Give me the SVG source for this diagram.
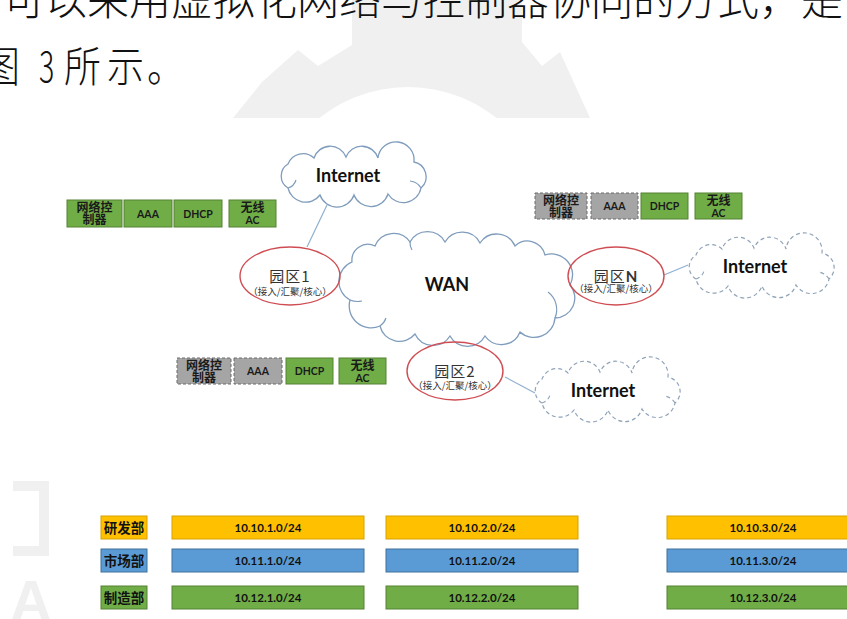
<svg xmlns="http://www.w3.org/2000/svg" width="847" height="619" viewBox="0 0 847 619">
<style>
  .para{font-family:"Noto Sans CJK SC",sans-serif;font-size:42px;font-weight:300;fill:#111}
  .wm{fill:#f0f0f0}
  .g{fill:#70ad47;stroke:#548235;stroke-width:1}
  .x{fill:#a5a5a5;stroke:#6b6b6b;stroke-width:1;stroke-dasharray:3 2}
  .bt{font-family:Lato,"Liberation Sans",sans-serif;font-weight:700;font-size:10.5px;fill:#1a1a1a;text-anchor:middle}
  .bc{font-family:"Noto Sans CJK SC",sans-serif;font-weight:700;font-size:12px;fill:#1a1a1a;text-anchor:middle}
  .cloud{fill:#fff;stroke:#7f9cbd;stroke-width:1.3}
  .cloud-d{fill:#fff;stroke:#8fa3b8;stroke-width:1.2;stroke-dasharray:4 3}
  .inner{fill:none;stroke:#7f9cbd;stroke-width:1.2}
  .inner-d{fill:none;stroke:#8fa3b8;stroke-width:1.1;stroke-dasharray:4 3}
  .lbl{font-family:Lato,"Liberation Sans",sans-serif;font-weight:700;font-size:18px;fill:#111;text-anchor:middle}
  .site{fill:none;stroke:#cf4d52;stroke-width:1.4}
  .st{font-family:"Noto Sans CJK SC",sans-serif;font-size:15px;fill:#333;text-anchor:middle}
  .stb{font-family:Lato,"Liberation Sans",sans-serif;font-weight:700}
  .ss{font-family:"Noto Sans CJK SC",sans-serif;font-size:9.5px;fill:#333;text-anchor:middle}
  .link{stroke:#8fb0d0;stroke-width:1.2;fill:none}
  .yel{fill:#ffc000;stroke:#d6a100;stroke-width:1}
  .blu{fill:#5b9bd5;stroke:#41719c;stroke-width:1}
  .grn{fill:#70ad47;stroke:#548235;stroke-width:1}
  .dep{font-family:"Noto Sans CJK SC",sans-serif;font-weight:700;font-size:13.5px;fill:#111;text-anchor:middle}
  .ip{font-family:Lato,"Liberation Sans",sans-serif;font-weight:700;font-size:11.5px;fill:#111;text-anchor:middle}
</style>
<defs>
  <path id="cloudShape" d="M12,40 A14,14 0 0 1 12,16 A16,16 0 0 1 38,10 A17,17 0 0 1 70,9 A17,17 0 0 1 102,10 A17,17 0 0 1 138,14 A15,15 0 0 1 145,40 A18,18 0 0 1 112,46 A18,18 0 0 1 78,47 A18,18 0 0 1 44,47 A18,18 0 0 1 12,40 Z"/>
  <clipPath id="topArea"><rect x="0" y="0" width="847" height="118"/></clipPath>
</defs>

<rect width="847" height="619" fill="#fff"/>

<!-- faint background logo -->
<g clip-path="url(#topArea)">
  <path class="wm" d="M233,118 L262,82 L298,50 L318,66 L352,45 L352,-5 L522,-5 L522,42 L542,66 L560,52 L590,118 Z"/>
  <circle cx="408" cy="229" r="142" fill="#fff"/>
</g>
<path class="wm" d="M13,481 H49 V556 H13 V546 H39 V491 H13 Z"/>
<text x="10" y="621" font-family="Liberation Sans,sans-serif" font-weight="700" font-size="58" fill="#f0f0f0">A</text>

<!-- paragraph text -->
<text class="para" x="3" y="15">可以采用虚拟化网络与控制器协同的方式，是</text>
<g class="para" font-size="44">
  <text transform="translate(-17,82) scale(0.88,1)">图</text>
  <text transform="translate(39,82) scale(0.68,1)">3</text>
  <text transform="translate(64,82) scale(0.88,1)">所</text>
  <text transform="translate(107,82) scale(0.88,1)">示</text>
  <text transform="translate(147,82) scale(0.88,1)">。</text>
</g>

<!-- connectors -->
<g id="connectors">
  <line class="link" x1="327" y1="205" x2="307" y2="247"/>
  <line class="link" x1="664" y1="275" x2="688" y2="265"/>
  <line class="link" x1="505" y1="377" x2="535" y2="393"/>
</g>

<!-- WAN -->
<g id="wan">
  <path class="cloud" d="M350,300 A21,21 0 0 1 352,262 A16,16 0 0 1 375,246 A20,20 0 0 1 410,242 A20,20 0 0 1 445,242 A20,20 0 0 1 480,243 A20,20 0 0 1 515,246 A18,18 0 0 1 545,255 A21,21 0 0 1 570,285 A20,20 0 0 1 555,318 A21,21 0 0 1 520,332 A20,20 0 0 1 485,336 A20,20 0 0 1 450,336 A20,20 0 0 1 415,334 A20,20 0 0 1 380,326 A22,22 0 0 1 350,300 Z"/>
  <path class="inner" d="M350,300 A20,20 0 0 0 362,301"/>
  <path class="inner" d="M555,318 A22,22 0 0 0 548,292"/>
  <path class="inner" d="M380,326 A16,16 0 0 0 386,318"/>
  <path class="inner" d="M410,242 A14,14 0 0 0 412,250"/>
  <text class="lbl" x="447" y="291">WAN</text>
</g>

<!-- Internet clouds -->
<g id="internet-1">
  <use href="#cloudShape" class="cloud" transform="translate(276,148)"/>
  <path class="inner" d="M288,188 A12,12 0 0 0 296,180"/>
  <path class="inner" d="M421,188 A14,14 0 0 0 410,181"/>
  <text class="lbl" x="348" y="182">Internet</text>
</g>
<g id="internet-n">
  <use href="#cloudShape" class="cloud-d" transform="translate(684,239)"/>
  <path class="inner-d" d="M696,279 A12,12 0 0 0 704,271"/>
  <path class="inner-d" d="M829,279 A14,14 0 0 0 818,272"/>
  <text class="lbl" x="755" y="273">Internet</text>
</g>
<g id="internet-2">
  <use href="#cloudShape" class="cloud-d" transform="translate(530,363)"/>
  <path class="inner-d" d="M542,403 A12,12 0 0 0 550,395"/>
  <path class="inner-d" d="M675,403 A14,14 0 0 0 664,396"/>
  <text class="lbl" x="603" y="397">Internet</text>
</g>

<!-- campus sites -->
<g id="site-1">
  <ellipse class="site" cx="290" cy="276" rx="50" ry="29"/>
  <text class="st" x="290" y="282" letter-spacing="1">园区1</text>
  <text class="ss" x="290" y="295">（接入/汇聚/核心）</text>
</g>
<g id="site-n">
  <ellipse class="site" cx="616" cy="276" rx="48" ry="29"/>
  <text class="st" x="616" y="282" letter-spacing="1">园区<tspan class="stb">N</tspan></text>
  <text class="ss" x="616" y="292">（接入/汇聚/核心）</text>
</g>
<g id="site-2">
  <ellipse class="site" cx="455" cy="371" rx="48" ry="29"/>
  <text class="st" x="455" y="377" letter-spacing="1">园区2</text>
  <text class="ss" x="455" y="389">（接入/汇聚/核心）</text>
</g>

<!-- service boxes, site 1 -->
<g id="svc-1">
  <rect class="g" x="67" y="200" width="55" height="27"/>
  <text class="bc" x="94.5" y="212">网络控</text><text class="bc" x="94.5" y="224">制器</text>
  <rect class="g" x="124" y="200" width="48" height="27"/>
  <text class="bt" x="148" y="217.5">AAA</text>
  <rect class="g" x="174" y="200" width="48" height="27"/>
  <text class="bt" x="198" y="217.5">DHCP</text>
  <rect class="g" x="229" y="200" width="47" height="27"/>
  <text class="bc" x="252.5" y="212">无线</text><text class="bt" x="252.5" y="224">AC</text>
</g>
<!-- service boxes, site N -->
<g id="svc-n">
  <rect class="x" x="535" y="193" width="52" height="26"/>
  <text class="bc" x="561" y="204.5">网络控</text><text class="bc" x="561" y="216.5">制器</text>
  <rect class="x" x="591" y="193" width="47" height="26"/>
  <text class="bt" x="614.5" y="210">AAA</text>
  <rect class="g" x="641" y="193" width="47" height="26"/>
  <text class="bt" x="664.5" y="210">DHCP</text>
  <rect class="g" x="695" y="193" width="47" height="26"/>
  <text class="bc" x="718.5" y="204.5">无线</text><text class="bt" x="718.5" y="216.5">AC</text>
</g>
<!-- service boxes, site 2 -->
<g id="svc-2">
  <rect class="x" x="177" y="358" width="54" height="26"/>
  <text class="bc" x="204" y="369.5">网络控</text><text class="bc" x="204" y="381.5">制器</text>
  <rect class="x" x="234" y="358" width="48" height="26"/>
  <text class="bt" x="258" y="375">AAA</text>
  <rect class="g" x="286" y="358" width="47" height="26"/>
  <text class="bt" x="309.5" y="375">DHCP</text>
  <rect class="g" x="339" y="358" width="47" height="26"/>
  <text class="bc" x="362.5" y="369.5">无线</text><text class="bt" x="362.5" y="381.5">AC</text>
</g>

<!-- address plan -->
<g id="plan-rd">
  <rect class="yel" x="101" y="516" width="46" height="23"/>
  <text class="dep" x="124" y="532.5">研发部</text>
  <rect class="yel" x="172" y="516" width="192" height="23"/>
  <text class="ip" x="268" y="531.5">10.10.1.0/24</text>
  <rect class="yel" x="386" y="516" width="192" height="23"/>
  <text class="ip" x="482" y="531.5">10.10.2.0/24</text>
  <rect class="yel" x="667" y="516" width="192" height="23"/>
  <text class="ip" x="763" y="531.5">10.10.3.0/24</text>
</g>
<g id="plan-mkt">
  <rect class="blu" x="101" y="549" width="46" height="23"/>
  <text class="dep" x="124" y="565.5">市场部</text>
  <rect class="blu" x="172" y="549" width="192" height="23"/>
  <text class="ip" x="268" y="564.5">10.11.1.0/24</text>
  <rect class="blu" x="386" y="549" width="192" height="23"/>
  <text class="ip" x="482" y="564.5">10.11.2.0/24</text>
  <rect class="blu" x="667" y="549" width="192" height="23"/>
  <text class="ip" x="763" y="564.5">10.11.3.0/24</text>
</g>
<g id="plan-mfg">
  <rect class="grn" x="101" y="586" width="46" height="23"/>
  <text class="dep" x="124" y="602.5">制造部</text>
  <rect class="grn" x="172" y="586" width="192" height="23"/>
  <text class="ip" x="268" y="601.5">10.12.1.0/24</text>
  <rect class="grn" x="386" y="586" width="192" height="23"/>
  <text class="ip" x="482" y="601.5">10.12.2.0/24</text>
  <rect class="grn" x="667" y="586" width="192" height="23"/>
  <text class="ip" x="763" y="601.5">10.12.3.0/24</text>
</g>
</svg>
